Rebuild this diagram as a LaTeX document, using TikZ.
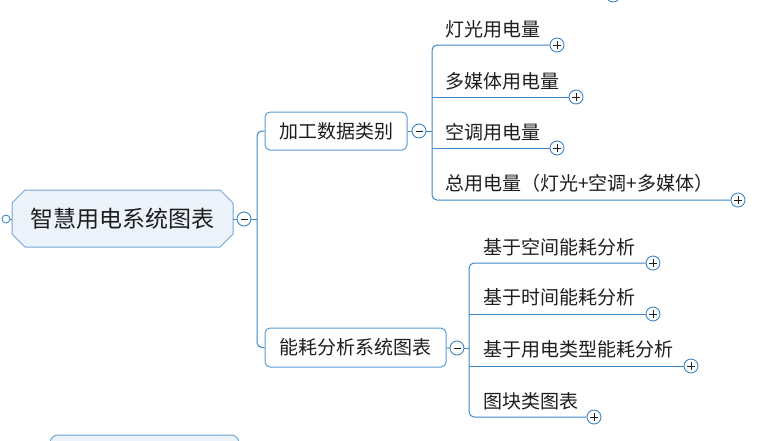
\documentclass[tikz,border=0pt]{standalone}
\usepackage{fontspec}
\setmainfont{Noto Sans CJK SC}
\definecolor{lineblue}{HTML}{3E87C9}
\definecolor{boxblue}{HTML}{5B9BD5}
\definecolor{rootborder}{HTML}{6FA7DA}
\definecolor{rootfill}{HTML}{EDF3FA}
\definecolor{txt}{HTML}{1E1E1E}
\tikzset{
  conn/.style={draw=lineblue, line width=1pt},
  topic/.style={draw=boxblue, line width=1pt, fill=white, rounded corners=5pt, text=txt,
    font=\fontsize{19}{23}\selectfont, inner sep=0pt},
  leaf/.style={anchor=base west, inner sep=0pt, text=txt, font=\fontsize{19}{23}\selectfont},
  tog/.style={circle, draw=lineblue, fill=white, line width=0.9pt, minimum size=14pt, inner sep=0pt},
  minusbtn/.style={tog, path picture={\draw[line width=1pt, txt]
      ([xshift=-3.5pt]path picture bounding box.center) -- ([xshift=3.5pt]path picture bounding box.center);}},
  plusbtn/.style={tog, path picture={\draw[line width=1pt, txt]
      ([xshift=-4pt]path picture bounding box.center) -- ([xshift=4pt]path picture bounding box.center)
      ([yshift=-4pt]path picture bounding box.center) -- ([yshift=4pt]path picture bounding box.center);}},
}
\begin{document}
\begin{tikzpicture}[x=1pt, y=-1pt]
\useasboundingbox (0,0) rectangle (780,440);
\clip (0,0) rectangle (780,440);
\fill[white] (0,0) rectangle (780,440);

% root
\draw[draw=rootborder, fill=rootfill, line width=1pt]
  (12,203) -- (25,190) -- (220,190) -- (233,203) -- (233,234) -- (220,247) -- (25,247) -- (12,234) -- cycle;
\node[inner sep=0pt, text=txt, font=\fontsize{23}{27}\selectfont] (root) at (122.5,219) {智慧用电系统图表};
\coordinate (rootL) at (12,219);
\coordinate (rootR) at (233,219);
\node[tog, minimum size=8pt] (lc) at (6,219) {};
\draw[conn] (lc) -- (rootL);
\node[minusbtn] (rm) at (244,219) {};
\draw[conn] (rootR) -- (rm);
\coordinate (j1) at (257,219);
\draw[conn] (rm) -- (j1);

% main topics
\node[topic, minimum width=142pt, minimum height=38pt] (n1) at (336,131) {加工数据类别};
\node[topic, minimum width=181pt, minimum height=39pt] (n2) at (355.5,347.5) {能耗分析系统图表};
\draw[conn, rounded corners=5pt] (n1.west) -- (n1.west -| j1) -- (n2.west -| j1) -- (n2.west);

% group 1
\node[minusbtn] (m1) at (419,131) {};
\draw[conn] (n1) -- (m1);
\coordinate (j2) at (432,131);
\draw[conn] (m1) -- (j2);
\node[leaf] (a1) at (445,36) {灯光用电量};
\node[leaf] (a2) at (445,88) {多媒体用电量};
\node[leaf] (a3) at (445,139) {空调用电量};
\node[leaf] (a4) at (445,190) {总用电量（灯光+空调+多媒体）};
\node[plusbtn] (pa1) at (557,45) {};
\node[plusbtn] (pa2) at (576,97) {};
\node[plusbtn] (pa3) at (557,148) {};
\node[plusbtn] (pa4) at (738,200) {};
\draw[conn, rounded corners=5pt] (pa1.west) -- (pa1.west -| j2) -- (pa4.west -| j2) -- (pa4.west);
\draw[conn] (pa2.west) -- (pa2.west -| j2);
\draw[conn] (pa3.west) -- (pa3.west -| j2);

% group 2
\node[minusbtn] (m2) at (457,348) {};
\draw[conn] (n2) -- (m2);
\coordinate (j3) at (469,348);
\draw[conn] (m2) -- (j3);
\node[leaf] (b1) at (483,254) {基于空间能耗分析};
\node[leaf] (b2) at (483,304) {基于时间能耗分析};
\node[leaf] (b3) at (483,356) {基于用电类型能耗分析};
\node[leaf] (b4) at (483,408) {图块类图表};
\node[plusbtn] (pb1) at (653,263) {};
\node[plusbtn] (pb2) at (653,314) {};
\node[plusbtn] (pb3) at (691,366) {};
\node[plusbtn] (pb4) at (594,417) {};
\draw[conn, rounded corners=5pt] (pb1.west) -- (pb1.west -| j3) -- (pb4.west -| j3) -- (pb4.west);
\draw[conn] (pb2.west) -- (pb2.west -| j3);
\draw[conn] (pb3.west) -- (pb3.west -| j3);

% partially visible elements at the edges
\node[plusbtn] (ptop) at (613,-5) {};
\node[draw=rootborder, fill=rootfill, line width=1pt, rounded corners=8pt,
      minimum width=189pt, minimum height=40pt] (n3) at (144.5,455) {};
\end{tikzpicture}
\end{document}
